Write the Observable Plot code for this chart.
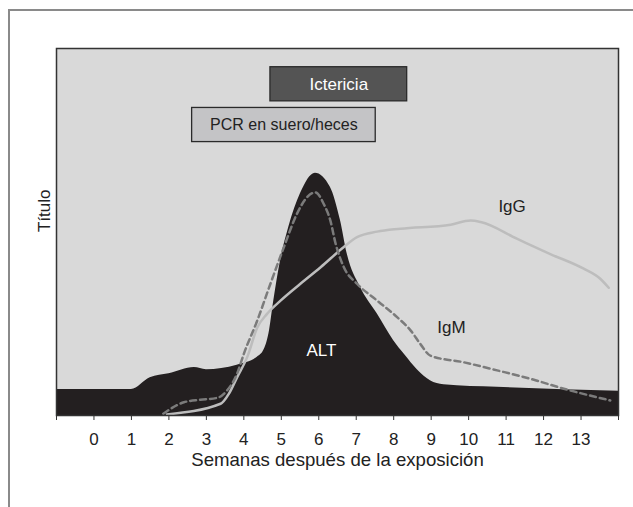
<!DOCTYPE html>
<html><head><meta charset="utf-8">
<script src="https://cdn.jsdelivr.net/npm/d3@7"></script>
<script src="https://cdn.jsdelivr.net/npm/@observablehq/plot@0.6"></script>
<style>
body{margin:0;background:#fff;}
#wrap{position:relative;width:633px;height:507px;overflow:hidden;}
#border{position:absolute;left:8px;top:9px;width:700px;height:600px;border-top:2px solid #8a8a8a;border-left:2px solid #8a8a8a;}
#chart{position:absolute;left:0;top:0;}
</style></head><body><div id="wrap"><div id="border"></div><div id="chart"></div></div>
<script>
// ALT (area)
const altX = [-1, 1.0, 1.5, 2.0, 2.68, 3.0, 3.82, 4.36, 4.53, 4.67, 4.8, 4.98, 5.2, 5.51, 5.91, 6.31, 6.58, 6.76, 7.11, 7.56, 8.0, 8.3, 8.63, 8.98, 9.34, 10.76, 12.54, 14];
const altY = [7.1, 7.1, 10.3, 11.4, 13.1, 12.5, 13.7, 15.9, 17.7, 22.3, 31.3, 42.2, 51.3, 60.4, 66, 62.2, 53.1, 44, 35, 27.7, 20.4, 16.5, 12.5, 9.5, 8.4, 7.7, 7.0, 6.6];
// IgM (dashed)
const igmX = [1.85, 2.4, 2.84, 3.29, 3.55, 3.82, 4.0, 4.36, 4.71, 5.07, 5.42, 5.69, 5.91, 6.13, 6.31, 6.45, 6.67, 7.02, 7.56, 8.09, 8.45, 8.71, 8.98, 9.87, 10.76, 11.65, 12.54, 13.78];
const igmY = [0.5, 3.6, 4.3, 4.8, 6.8, 11.4, 16.8, 25.9, 35.9, 45.9, 55, 59.5, 60.8, 57.7, 53.1, 46.8, 40.4, 35.9, 31.3, 26.8, 23.2, 19.5, 16.3, 14.5, 12.3, 10, 7.3, 4.1];
// IgG (solid)
const iggX = [1.95, 3.38, 3.6, 3.82, 4.09, 4.36, 4.62, 4.98, 5.51, 6.05, 6.67, 7.02, 7.56, 8.18, 9.52, 10.05, 10.32, 11.3, 12.18, 13.07, 13.52, 13.74];
const iggY = [0.3, 3.2, 5.9, 10.4, 15.9, 24, 27.7, 31.3, 35.9, 40.4, 45.9, 48.6, 50.1, 50.9, 52, 53.1, 52.7, 48.1, 44, 40, 37.2, 34.8];
// Bars
const barLabels = ["Ictericia", "PCR en suero/heces"];
const barX1 = [4.71, 2.62];
const barX2 = [8.36, 7.52];
const barY1 = [85.6, 74.5];
const barY2 = [94.9, 83.8];
// Curve labels
const curveLabels = ["IgG", "IgM", "ALT"];
const curveLabelX = [11.16, 9.54, 6.07];
const curveLabelY = [56.8, 24, 17.8];
const xTicks = d3.range(-1, 15);

const alt = altX.map((x, i) => ({x, y: altY[i]}));
const igm = igmX.map((x, i) => ({x, y: igmY[i]}));
const igg = iggX.map((x, i) => ({x, y: iggY[i]}));
const bars = barLabels.map((t, i) => ({t, x1: barX1[i], x2: barX2[i], y1: barY1[i], y2: barY2[i]}));
const cl = curveLabels.map((t, i) => ({t, x: curveLabelX[i], y: curveLabelY[i]}));

const font = "'Liberation Sans', Arial, Helvetica, sans-serif";
const plot = Plot.plot({
  width: 633, height: 507,
  marginLeft: 56, marginRight: 15, marginTop: 48, marginBottom: 92,
  x: {domain: [-1, 14]},
  y: {domain: [0, 100], axis: null},
  style: {fontFamily: font, fontSize: "17px", color: "#222", background: "transparent"},
  marks: [
    Plot.frame({fill: "#d9d9d9"}),
    Plot.areaY(alt, {x: "x", y: "y", fill: "#231f20", curve: "monotone-x"}),
    Plot.line(igg, {x: "x", y: "y", stroke: "#bdbdbd", strokeWidth: 2.5, curve: "monotone-x"}),
    Plot.line(igm, {x: "x", y: "y", stroke: "#7b7b7b", strokeWidth: 2.5, strokeDasharray: "6,4", curve: "monotone-x"}),
    Plot.rect(bars, {x1: "x1", x2: "x2", y1: "y1", y2: "y2", fill: (d, i) => i === 0 ? "#545454" : "#c4c4c6", stroke: "#2a2a2a", strokeWidth: 1.3}),
    Plot.text(bars, {x: d => (d.x1 + d.x2) / 2, y: d => (d.y1 + d.y2) / 2, text: "t", fill: (d, i) => i === 0 ? "#ffffff" : "#222", fontSize: (d, i) => i === 0 ? 17 : 16}),
    Plot.text(cl, {x: "x", y: "y", text: "t", fill: d => d.t === "ALT" ? "#ffffff" : "#222", fontSize: 17}),
    Plot.frame({stroke: "#333", strokeWidth: 1.5}),
    Plot.axisX({ticks: xTicks, tickFormat: d => (d >= 0 && d <= 13) ? d : "", tickSize: 5, tickPadding: 12, stroke: "#333", label: null, fontSize: 17}),
    Plot.text(["Semanas después de la exposición"], {frameAnchor: "bottom", dy: 50, text: d => d, fill: "#222", fontSize: 18.6}),
    Plot.text(["Título"], {frameAnchor: "left", rotate: -90, dx: -12, text: d => d, fill: "#222", fontSize: 17})
  ]
});
document.getElementById("chart").appendChild(plot);
</script>
</body></html>
